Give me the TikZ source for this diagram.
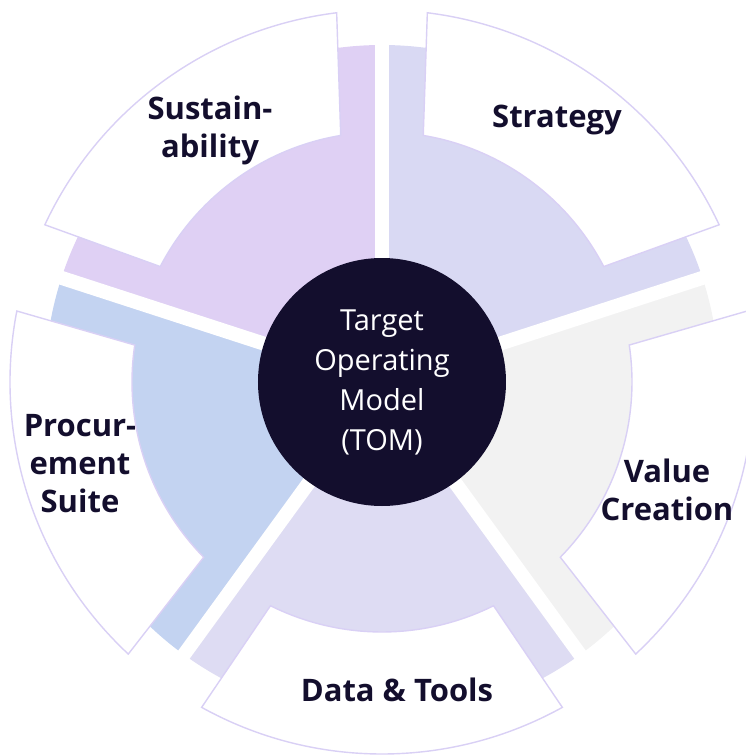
\documentclass[tikz,border=0pt]{standalone}
\usepackage{fontspec}
\setmainfont{Open Sans}
\definecolor{tomnavy}{RGB}{19,14,45}
\definecolor{sustlilac}{RGB}{223,208,244}
\definecolor{stratlav}{RGB}{217,217,243}
\definecolor{valgray}{RGB}{242,242,242}
\definecolor{datalav}{RGB}{222,220,243}
\definecolor{procblue}{RGB}{195,211,241}
\definecolor{tabline}{RGB}{217,208,245}
\begin{document}
\begin{tikzpicture}
  [x=1pt,y=1pt,
   tab/.style={fill=white,draw=tabline,line width=1.4pt},
   gap/.style={white,line width=14pt},
   seglabel/.style={text=tomnavy,align=center,font=\fontsize{31}{38}\selectfont\bfseries}]
  \useasboundingbox (-382,-374) rectangle (364,382);

  % coloured wedges
  \fill[sustlilac] (0,0) -- (90:337) arc[start angle=90,end angle=162,radius=337] -- cycle;
  \fill[stratlav] (0,0) -- (18:337) arc[start angle=18,end angle=90,radius=337] -- cycle;
  \fill[valgray] (0,0) -- (-54:337) arc[start angle=-54,end angle=18,radius=337] -- cycle;
  \fill[datalav] (0,0) -- (-126:337) arc[start angle=-126,end angle=-54,radius=337] -- cycle;
  \fill[procblue] (0,0) -- (162:337) arc[start angle=162,end angle=234,radius=337] -- cycle;

  % white gaps between wedges
  \draw[gap] (0,0) -- (90:350);
  \draw[gap] (0,0) -- (18:350);
  \draw[gap] (0,0) -- (-54:350);
  \draw[gap] (0,0) -- (-126:350);
  \draw[gap] (0,0) -- (162:350);

  % tabs
  \draw[tab] (97:372) arc[start angle=97,end angle=155,radius=372]
    -- (152.5:250) arc[start angle=152.5,end angle=99.5,radius=250] -- cycle;
  \draw[tab] (25:372) arc[start angle=25,end angle=83,radius=372]
    -- (80.5:250) arc[start angle=80.5,end angle=27.5,radius=250] -- cycle;
  \draw[tab] (-47:372) arc[start angle=-47,end angle=11,radius=372]
    -- (8.5:250) arc[start angle=8.5,end angle=-44.5,radius=250] -- cycle;
  \draw[tab] (-119:372) arc[start angle=-119,end angle=-61,radius=372]
    -- (-63.5:250) arc[start angle=-63.5,end angle=-116.5,radius=250] -- cycle;
  \draw[tab] (169:372) arc[start angle=169,end angle=227,radius=372]
    -- (224.5:250) arc[start angle=224.5,end angle=171.5,radius=250] -- cycle;

  \node[circle,fill=tomnavy,minimum size=248,inner sep=0,text=white,align=center,
    font=\fontsize{29}{40}\selectfont] (tom) at (0,0) {Target\\Operating\\Model\\(TOM)};

  \node[seglabel] (sust) at (-172,252) {Sustain-\\ability};
  \node[seglabel] (strat) at (175,262) {Strategy};
  \node[seglabel] (val) at (285,-108) {Value\\Creation};
  \node[seglabel] (data) at (15,-308) {Data \& Tools};
  \node[seglabel] (proc) at (-302,-82) {Procur-\\ement\\Suite};
\end{tikzpicture}
\end{document}
